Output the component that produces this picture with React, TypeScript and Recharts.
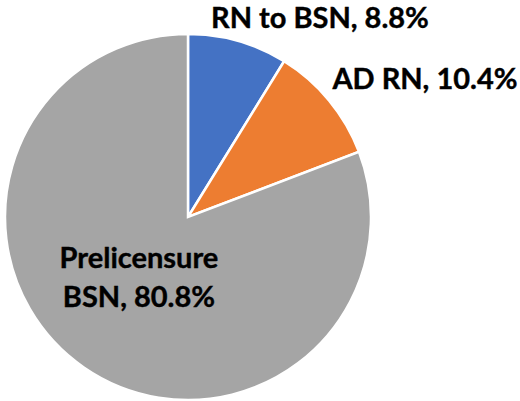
import { PieChart, Pie, Cell } from 'recharts'

const programs = ['RN to BSN', 'AD RN', 'Prelicensure BSN']
const shares = [8.8, 10.4, 80.8]
const colors = ['#4472C4', '#ED7D31', '#A5A5A5']

// label centres, in units of the outer radius, relative to the pie centre
const labelSpots = [
  { dx: 0.721, dy: -1.098 },
  { dx: 1.295, dy: -0.765 },
  { dx: -0.268, dy: 0.333 },
]

const data = programs.map((name, i) => ({ name, value: shares[i] }))

const font = 'Lato, "Open Sans", sans-serif'

function renderLabel(props: any) {
  const { cx, cy, outerRadius, index, name, value } = props
  const spot = labelSpots[index]
  const x = cx + spot.dx * outerRadius
  const y = cy + spot.dy * outerRadius
  const text = `${name}, ${value}%`
  const common = {
    fill: '#000',
    stroke: '#000',
    strokeWidth: 0.4,
    fontFamily: font,
    fontWeight: 700,
    fontSize: 29,
    textAnchor: 'middle' as const,
  }
  if (index === 2) {
    const cut = name.indexOf(' ')
    return (
      <text x={x} y={y} {...common}>
        <tspan x={x} dy={-10}>{name.slice(0, cut)}</tspan>
        <tspan x={x} dy={39}>{`${name.slice(cut + 1)}, ${value}%`}</tspan>
      </text>
    )
  }
  return (
    <text x={x} y={y} dominantBaseline="central" {...common}>
      {text}
    </text>
  )
}

export default function App() {
  return (
    <div style={{ position: 'absolute', left: 0, top: 0, width: 520, height: 401, background: '#fff' }}>
      <PieChart width={520} height={401} margin={{ top: 0, right: 0, bottom: 0, left: 0 }}>
        <Pie
          data={data}
          dataKey="value"
          nameKey="name"
          cx={188}
          cy={217}
          outerRadius={183}
          startAngle={90}
          endAngle={-270}
          stroke="#fff"
          strokeWidth={2.5}
          label={renderLabel}
          labelLine={false}
          isAnimationActive={false}
        >
          {data.map((d, i) => (
            <Cell key={d.name} fill={colors[i]} />
          ))}
        </Pie>
      </PieChart>
    </div>
  )
}
